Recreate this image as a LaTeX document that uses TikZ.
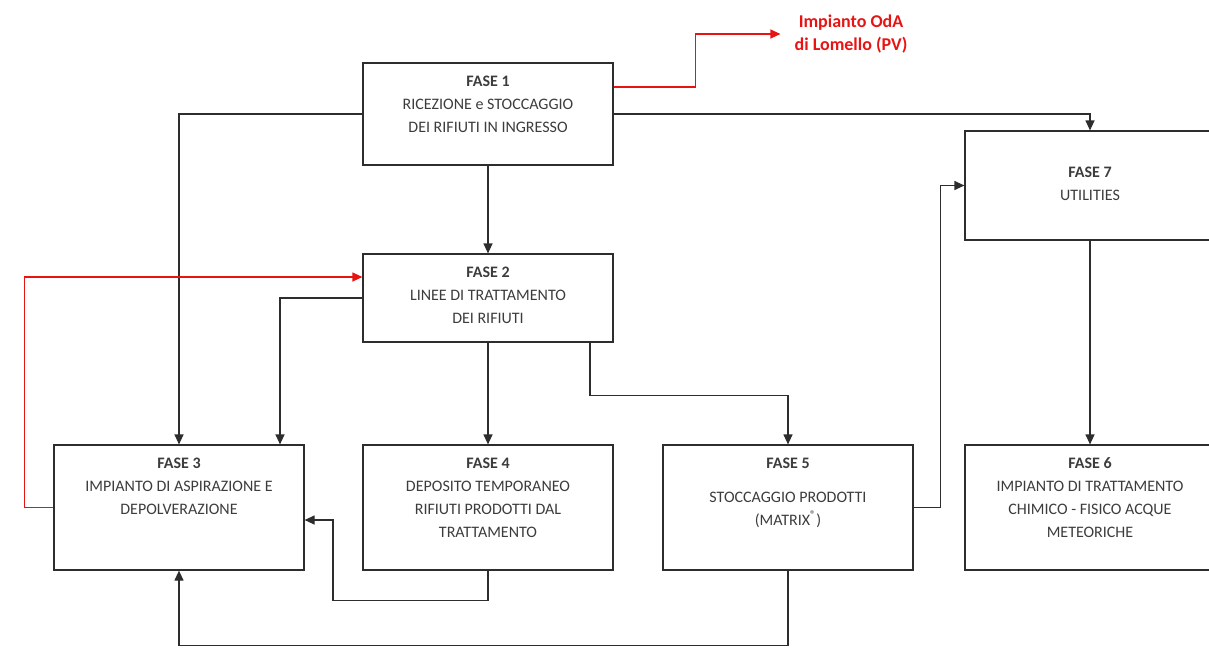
\documentclass[tikz,border=0pt]{standalone}
\usepackage{fontspec}
\setmainfont{Carlito}
\usetikzlibrary{positioning,arrows.meta}

\definecolor{linegray}{RGB}{45,45,45}
\definecolor{textgray}{RGB}{60,60,60}
\definecolor{modred}{RGB}{232,20,20}

\tikzset{
  fase/.style={draw=linegray, line width=1.2pt, minimum width=250pt, inner sep=0pt},
  fasetext/.style={align=center, inner sep=0pt, text=textgray, font=\fontsize{16}{23}\selectfont},
  flow/.style={draw=linegray, line width=1.2pt, -{Triangle[length=10pt,width=9pt]}},
  modflow/.style={flow, draw=modred},
}

\begin{document}
\begin{tikzpicture}[x=1pt,y=-1pt]
\useasboundingbox (0,0) rectangle (1209,654);
% caselle delle fasi
\node[fase, minimum height=102pt] (f1) at (488,114) {};
\node[fase, minimum height=88pt] (f2) at (488,298) {};
\node[fase, minimum height=125pt] (f3) at (179,507.5) {};
\node[fase, minimum height=125pt] (f4) at (488,507.5) {};
\node[fase, minimum height=125pt] (f5) at (788,507.5) {};
\node[fase, minimum height=125pt] (f6) at (1090,507.5) {};
\node[fase, minimum height=109pt] (f7) at (1090,185.5) {};

\node[fasetext, below=13pt of f1.north] (t1) {\textbf{FASE 1}\\RICEZIONE e STOCCAGGIO\\DEI RIFIUTI IN INGRESSO};
\node[fasetext, below=13pt of f2.north] (t2) {\textbf{FASE 2}\\LINEE DI TRATTAMENTO\\DEI RIFIUTI};
\node[fasetext, below=13pt of f3.north] (t3) {\textbf{FASE 3}\\IMPIANTO DI ASPIRAZIONE E\\DEPOLVERAZIONE};
\node[fasetext, below=13pt of f4.north] (t4) {\textbf{FASE 4}\\DEPOSITO TEMPORANEO\\RIFIUTI PRODOTTI DAL\\TRATTAMENTO};
\node[fasetext, below=13pt of f5.north] (t5) {\textbf{FASE 5}\\[11pt]STOCCAGGIO PRODOTTI\\(MATRIX\textsuperscript{®})};
\node[fasetext, below=13pt of f6.north] (t6) {\textbf{FASE 6}\\IMPIANTO DI TRATTAMENTO\\CHIMICO - FISICO ACQUE\\METEORICHE};
\node[fasetext, below=36pt of f7.north] (t7) {\textbf{FASE 7}\\UTILITIES};

\node[align=center, inner xsep=14pt, inner ysep=0pt, text=modred, font=\bfseries\fontsize{18}{23}\selectfont] (oda) at (851,34) {Impianto OdA\\di Lomello (PV)};

% collegamenti
\draw[flow] (f1.west) -| (f3.north);
\draw[flow] (f1.south) -- (f2.north);
\draw[flow] (f1.east) -| (f7.north);
\draw[modflow] ([yshift=27pt]f1.east) -- ++(82,0) |- (oda.west);
\draw[modflow] (f3.west) -- ++(-29,0) |- ([yshift=21pt]f2.west);
\draw[flow] (f2.west) -| ([xshift=101pt]f3.north);
\draw[flow] (f2.south) -- (f4.north);
\draw[flow] ([xshift=102pt]f2.south) -- ++(0,53) -| (f5.north);
\draw[flow] (f4.south) |- ++(-155,30) |- ([yshift=-12.5pt]f3.east);
\draw[flow] (f5.south) -- ++(0,75) -| (f3.south);
\draw[flow] (f5.east) -- ++(27,0) |- (f7.west);
\draw[flow] (f7.south) -- (f6.north);
\end{tikzpicture}
\end{document}
